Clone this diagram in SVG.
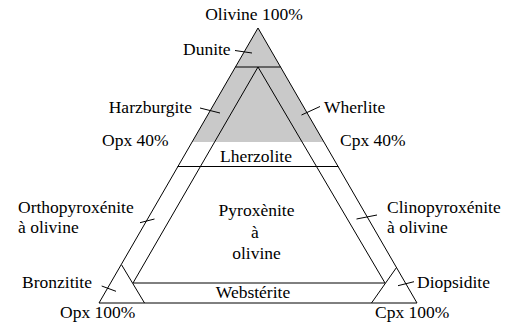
<svg xmlns="http://www.w3.org/2000/svg" width="520" height="329" viewBox="0 0 520 329">
<style>
text{font-size:17.5px;fill:#000}
.m{text-anchor:middle}
.e{text-anchor:end}
.ln{stroke:#000;stroke-width:1;fill:none}
.tk{stroke:#000;stroke-width:1}
</style>
<rect width="520" height="329" fill="#fff"/>
<g id="olivine-zone">
<polygon points="258,28 192.1,142 323.9,142" fill="#c9c9c9"/>
</g>
<g id="connectors">
<polygon class="ln" points="258,28 99,303 417,303"/>
<line class="ln" x1="235.4" y1="67" x2="280.6" y2="67" stroke="#444"/>
<polyline class="ln" points="133,283 258,67 385,283"/>
<line class="ln" x1="177.6" y1="166.5" x2="338.4" y2="166.5"/>
<line class="ln" x1="133" y1="283" x2="385" y2="283"/>
<line class="ln" x1="121.7" y1="265" x2="144.5" y2="303"/>
<line class="ln" x1="396.5" y1="267.5" x2="371.5" y2="303"/>
<line class="tk" x1="235" y1="50.5" x2="252" y2="53"/>
<line class="tk" x1="200" y1="108" x2="220" y2="113"/>
<line class="tk" x1="301.5" y1="115" x2="320" y2="106.5"/>
<line class="tk" x1="140" y1="222.7" x2="154.5" y2="219"/>
<line class="tk" x1="356.5" y1="219" x2="377" y2="215"/>
<line class="tk" x1="101.7" y1="286" x2="116" y2="291.3"/>
<line class="tk" x1="398" y1="285.7" x2="414" y2="281.7"/>
</g>
<g font-family="Liberation Serif, DejaVu Serif, serif">
<g id="apex"><text class="m" x="254" y="20">Olivine 100%</text></g>
<g id="dunite"><text x="183" y="55">Dunite</text></g>
<g id="harzburgite"><text class="e" x="192" y="113">Harzburgite</text></g>
<g id="wherlite"><text x="324" y="113">Wherlite</text></g>
<g id="opx40"><text x="102" y="146">Opx 40%</text></g>
<g id="cpx40"><text x="340" y="146">Cpx 40%</text></g>
<g id="lherzolite"><text class="m" x="256" y="162">Lherzolite</text></g>
<g id="pyroxenite"><text class="m" x="256.5" y="216">Pyroxènite</text><text class="m" x="255" y="238">à</text><text class="m" x="256.5" y="259">olivine</text></g>
<g id="orthopyroxenite"><text x="18" y="213">Orthopyroxénite</text><text x="18" y="233">à olivine</text></g>
<g id="clinopyroxenite"><text x="387" y="213">Clinopyroxénite</text><text x="387" y="233">à olivine</text></g>
<g id="websterite"><text class="m" x="253" y="298">Webstérite</text></g>
<g id="bronzitite"><text x="22" y="288">Bronzitite</text></g>
<g id="diopsidite"><text x="417" y="288">Diopsidite</text></g>
<g id="opx100"><text x="60" y="318">Opx 100%</text></g>
<g id="cpx100"><text x="375" y="318">Cpx 100%</text></g>
</g>
</svg>
